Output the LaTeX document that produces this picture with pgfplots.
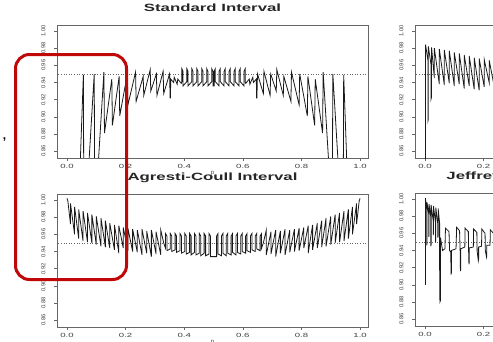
\documentclass[border=0pt]{standalone}
\usepackage{fontspec}
\setmainfont{Liberation Sans}
\usepackage{pgfplots}
\pgfplotsset{compat=1.18}
\definecolor{boxred}{RGB}{192,8,8}
\pgfplotsset{
  panel/.style={
    scale only axis, width=311pt, height=133pt,
    xmin=-0.034, xmax=1.027, ymin=0.852, ymax=1.007,
    anchor=south west,
    axis line style={draw=black!60, line width=0.6pt},
    xtick={0,0.2,0.4,0.6,0.8,1.0},
    xticklabels={0.0,0.2,0.4,0.6,0.8,1.0},
    ytick={0.86,0.88,0.90,0.92,0.94,0.96,0.98,1.00},
    yticklabels={0.86,0.88,0.90,0.92,0.94,0.96,0.98,1.00},
    /pgf/number format/assume math mode=true,
    tick align=outside, tick pos=left,
    major tick length=3pt,
    tick style={black!60, line width=0.5pt},
    xticklabel style={font=\fontsize{6}{7}\selectfont, xscale=1.6, text=black!75},
    yticklabel style={font=\fontsize{5.8}{6}\selectfont, rotate=90, anchor=south, text=black!75},
    yticklabel shift=5pt,
    title style={font=\bfseries\fontsize{10.5}{12}\selectfont, xscale=1.6, text=black!85,
      at={(axis description cs:0.5,1)}, anchor=base, yshift=7.5pt},
    xlabel={p},
    xlabel style={font=\fontsize{6}{7}\selectfont, text=black!75,
      at={(axis description cs:0.5,0)}, anchor=center, yshift=-16pt},
  },
  cov/.style={black!90, line width=0.8pt},
  ref/.style={black!60, dotted, line width=0.6pt},
}
\begin{document}
\begin{tikzpicture}[x=1pt,y=1pt]
% ---------------- Standard interval ----------------
\begin{axis}[panel, at={(57pt,183pt)}, title={Standard Interval}]
\addplot[ref] coordinates {(-0.1,0.95) (1.1,0.95)};
\addplot[cov] coordinates {
(0.010,0.400) (0.030,0.700) (0.056,0.949) (0.058,0.750) (0.093,0.950) (0.095,0.780)
(0.126,0.952) (0.128,0.881) (0.153,0.944) (0.155,0.890) (0.178,0.947) (0.180,0.901)
(0.206,0.950) (0.208,0.914) (0.234,0.952) (0.236,0.918) (0.260,0.947) (0.262,0.925)
(0.284,0.955) (0.286,0.930) (0.305,0.950) (0.307,0.925) (0.328,0.953) (0.330,0.927)
(0.350,0.950) (0.352,0.922) (0.353,0.922) (0.354,0.944) (0.364,0.940) (0.366,0.946)
(0.376,0.938) (0.378,0.944) (0.390,0.939)
(0.392,0.941)(0.392,0.956)(0.396,0.953)(0.396,0.936)
(0.409,0.941)(0.409,0.956)(0.413,0.953)(0.413,0.936)
(0.426,0.941)(0.426,0.956)(0.430,0.953)(0.430,0.936)
(0.443,0.941)(0.443,0.956)(0.447,0.953)(0.447,0.936)
(0.460,0.941)(0.460,0.956)(0.464,0.953)(0.464,0.936)
(0.477,0.941)(0.477,0.956)(0.481,0.953)(0.481,0.936)
(0.494,0.941)(0.494,0.956)(0.498,0.953)(0.498,0.936)
(0.502,0.936)(0.502,0.953)(0.506,0.956)(0.506,0.941)
(0.519,0.936)(0.519,0.953)(0.523,0.956)(0.523,0.941)
(0.536,0.936)(0.536,0.953)(0.540,0.956)(0.540,0.941)
(0.553,0.936)(0.553,0.953)(0.557,0.956)(0.557,0.941)
(0.570,0.936)(0.570,0.953)(0.574,0.956)(0.574,0.941)
(0.587,0.936)(0.587,0.953)(0.591,0.956)(0.591,0.941)
(0.604,0.936)(0.604,0.953)(0.608,0.956)(0.608,0.941)
(0.610,0.939)(0.622,0.944)(0.624,0.938)(0.634,0.946)(0.636,0.940)(0.646,0.944)(0.647,0.922)(0.648,0.922)
(0.650,0.950)(0.670,0.927)(0.672,0.953)(0.693,0.925)(0.695,0.950)(0.714,0.930)(0.716,0.955)
(0.738,0.925)(0.740,0.947)(0.764,0.918)(0.766,0.952)(0.792,0.914)(0.794,0.950)(0.820,0.901)
(0.822,0.947)(0.845,0.890)(0.847,0.944)(0.872,0.881)(0.874,0.952)(0.905,0.780)(0.907,0.950)
(0.942,0.750)(0.944,0.949)(0.970,0.700)(0.990,0.400)
};
\end{axis}
% ---------------- Top-right (Wilson) ----------------
\begin{axis}[panel, at={(415pt,183pt)}]
\addplot[ref] coordinates {(-0.1,0.95) (1.1,0.95)};
\addplot[cov] coordinates {
(0.0005,0.800)(0.002,0.800)(0.002,0.984)(0.010,0.966)(0.010,0.895)(0.0115,0.897)(0.0115,0.982)
(0.021,0.960)(0.021,0.921)(0.0225,0.923)(0.0225,0.981)
(0.032,0.945)(0.032,0.980)(0.049,0.938)(0.049,0.979)(0.066,0.937)(0.066,0.978)
(0.083,0.939)(0.083,0.977)(0.100,0.936)(0.100,0.975)(0.117,0.938)(0.117,0.974)
(0.134,0.933)(0.134,0.972)(0.151,0.936)(0.151,0.971)(0.168,0.932)(0.168,0.969)
(0.185,0.931)(0.185,0.968)(0.202,0.935)(0.202,0.967)(0.219,0.940)(0.219,0.966)
(0.236,0.936)(0.236,0.965)(0.253,0.934)(0.253,0.964)(0.270,0.937)(0.270,0.964)
(0.287,0.936)(0.287,0.963)(0.300,0.955)
};
\end{axis}
% ---------------- Agresti-Coull ----------------
\begin{axis}[panel, at={(57pt,14pt)}, title={Agresti-Coull Interval}]
\addplot[ref] coordinates {(-0.1,0.95) (1.1,0.95)};
\addplot[cov] coordinates {
(0.000,1.002)(0.003,0.999)(0.012,0.972)(0.012,0.996)(0.026,0.960)(0.026,0.992)
(0.040,0.955)(0.040,0.989)(0.055,0.952)(0.055,0.987)(0.070,0.951)(0.070,0.985)
(0.085,0.950)(0.085,0.983)(0.100,0.948)(0.100,0.981)(0.116,0.946)(0.116,0.979)
(0.131,0.945)(0.131,0.976)(0.146,0.944)(0.146,0.973)(0.162,0.942)(0.162,0.971)
(0.177,0.938)(0.177,0.970)(0.192,0.944)(0.192,0.968)(0.208,0.941)(0.208,0.967)
(0.224,0.940)(0.224,0.966)(0.240,0.939)(0.240,0.965)(0.256,0.936)(0.256,0.966)
(0.272,0.938)(0.272,0.964)(0.288,0.934)(0.288,0.965)(0.304,0.937)(0.304,0.963)
(0.320,0.936)(0.320,0.965)(0.330,0.950)
(0.336,0.944)(0.336,0.961)(0.341,0.958)(0.341,0.941)
(0.3525,0.943)(0.3525,0.961)(0.3575,0.958)(0.3575,0.940)
(0.369,0.942)(0.369,0.961)(0.374,0.958)(0.374,0.939)
(0.3855,0.941)(0.3855,0.961)(0.3905,0.958)(0.3905,0.938)
(0.402,0.940)(0.402,0.961)(0.407,0.958)(0.407,0.937)
(0.4185,0.939)(0.4185,0.961)(0.4235,0.958)(0.4235,0.936)
(0.435,0.939)(0.435,0.961)(0.440,0.958)(0.440,0.936)
(0.4515,0.938)(0.4515,0.961)(0.4565,0.958)(0.4565,0.935)
(0.468,0.938)(0.468,0.961)(0.473,0.958)(0.473,0.935)
(0.4845,0.937)(0.4845,0.961)(0.4895,0.958)(0.4895,0.934)
(0.5105,0.934)(0.5105,0.958)(0.5155,0.961)(0.5155,0.937)
(0.527,0.935)(0.527,0.958)(0.532,0.961)(0.532,0.938)
(0.5435,0.935)(0.5435,0.958)(0.5485,0.961)(0.5485,0.938)
(0.560,0.936)(0.560,0.958)(0.565,0.961)(0.565,0.939)
(0.5765,0.936)(0.5765,0.958)(0.5815,0.961)(0.5815,0.939)
(0.593,0.937)(0.593,0.958)(0.598,0.961)(0.598,0.940)
(0.6095,0.938)(0.6095,0.958)(0.6145,0.961)(0.6145,0.941)
(0.626,0.939)(0.626,0.958)(0.631,0.961)(0.631,0.942)
(0.6425,0.940)(0.6425,0.958)(0.6475,0.961)(0.6475,0.943)
(0.659,0.941)(0.659,0.958)(0.664,0.961)(0.664,0.944)
(0.670,0.950)(0.680,0.965)(0.680,0.936)(0.696,0.963)(0.696,0.937)(0.712,0.965)(0.712,0.934)
(0.728,0.964)(0.728,0.938)(0.744,0.966)(0.744,0.936)(0.760,0.965)(0.760,0.939)
(0.776,0.966)(0.776,0.940)(0.792,0.967)(0.792,0.941)(0.808,0.968)(0.808,0.944)
(0.823,0.970)(0.823,0.938)(0.838,0.971)(0.838,0.942)(0.854,0.973)(0.854,0.944)
(0.869,0.976)(0.869,0.945)(0.884,0.979)(0.884,0.946)(0.900,0.981)(0.900,0.948)
(0.915,0.983)(0.915,0.950)(0.930,0.985)(0.930,0.951)(0.945,0.987)(0.945,0.952)
(0.960,0.989)(0.960,0.955)(0.974,0.992)(0.974,0.960)(0.988,0.996)(0.988,0.972)
(0.997,0.999)(1.000,1.002)
};
\end{axis}
% ---------------- Jeffreys ----------------
\begin{axis}[panel, at={(415pt,15pt)}, title={Jeffreys Interval},
  title style={at={(axis description cs:0.083,1)}, anchor=base west}]
\addplot[ref] coordinates {(-0.1,0.95) (1.1,0.95)};
\addplot[cov] coordinates {
(0.0015,0.900)(0.0015,1.001)(0.006,0.988)(0.006,0.946)(0.007,0.948)(0.007,0.996)
(0.013,0.982)(0.013,0.956)(0.014,0.958)(0.014,0.994)(0.020,0.978)(0.020,0.945)
(0.021,0.947)(0.021,0.993)(0.028,0.975)(0.028,0.958)(0.029,0.960)(0.029,0.992)
(0.036,0.972)(0.036,0.950)(0.037,0.952)(0.037,0.990)(0.044,0.970)(0.044,0.955)
(0.045,0.957)(0.045,0.989)(0.050,0.972)(0.050,0.920)(0.051,0.880)(0.053,0.882)
(0.053,0.955)(0.060,0.940)(0.068,0.942)(0.070,0.966)(0.082,0.962)(0.084,0.940)
(0.088,0.938)(0.089,0.912)(0.090,0.914)(0.090,0.940)(0.106,0.942)(0.108,0.967)
(0.118,0.963)(0.120,0.940)(0.121,0.916)(0.122,0.918)(0.122,0.942)(0.136,0.944)
(0.137,0.966)(0.148,0.962)(0.149,0.938)(0.150,0.924)(0.151,0.926)(0.151,0.943)
(0.165,0.944)(0.166,0.965)(0.177,0.961)(0.178,0.939)(0.182,0.928)(0.183,0.930)
(0.183,0.944)(0.193,0.945)(0.194,0.965)(0.205,0.960)(0.206,0.940)(0.210,0.932)
(0.211,0.934)(0.211,0.946)(0.222,0.946)(0.223,0.964)(0.234,0.960)(0.235,0.936)
(0.236,0.944)(0.250,0.946)(0.251,0.963)(0.262,0.960)(0.263,0.937)(0.278,0.945)
(0.279,0.962)(0.290,0.958)(0.291,0.938)(0.300,0.946)
};
\end{axis}
% ---------------- overlay ----------------
\draw[boxred, line width=3pt, rounded corners=14pt] (15.5,61.5) rectangle (126.5,286.5);
\node[font=\bfseries\fontsize{12}{12}\selectfont, inner sep=0pt] at (4.5,201) {,};
\pgfresetboundingbox
\path[use as bounding box] (0,0) rectangle (493,341);
\end{tikzpicture}
\end{document}
